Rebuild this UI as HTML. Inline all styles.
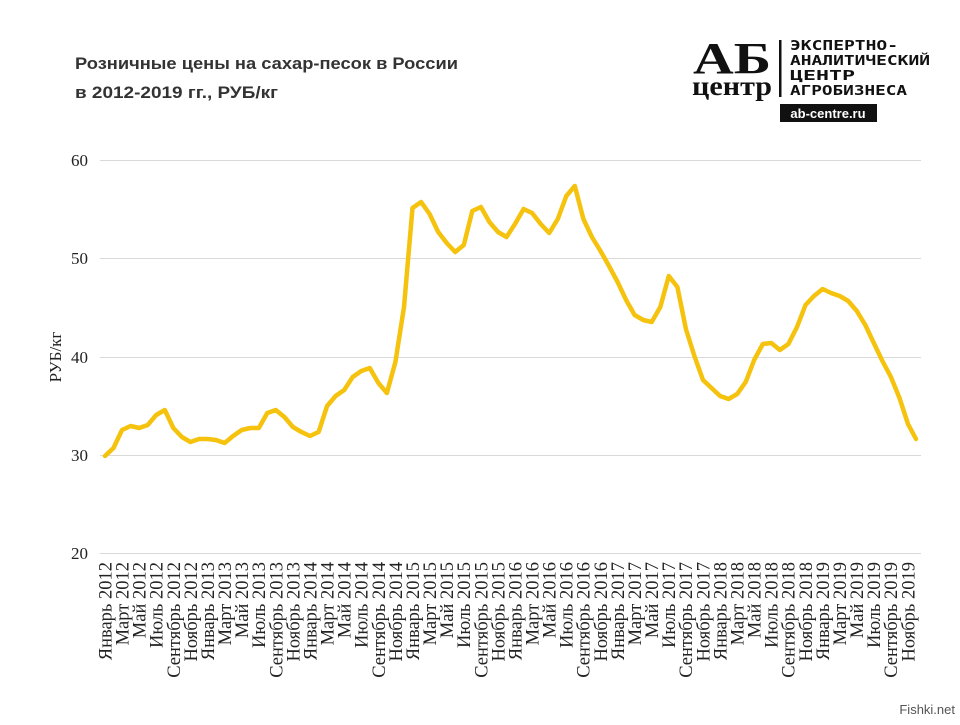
<!DOCTYPE html>
<html><head><meta charset="utf-8"><style>
body{margin:0;background:#fff}
</style></head><body>
<svg width="960" height="720" xmlns="http://www.w3.org/2000/svg">
<rect width="960" height="720" fill="#fff"/>
<text x="75" y="69" font-family="Liberation Sans, sans-serif" font-size="17" font-weight="bold" fill="#333" textLength="383" lengthAdjust="spacingAndGlyphs">Розничные  цены на сахар-песок  в России</text>
<text x="75" y="98" font-family="Liberation Sans, sans-serif" font-size="17" font-weight="bold" fill="#333" textLength="203" lengthAdjust="spacingAndGlyphs">в 2012-2019 гг., РУБ/кг</text>
<!-- logo -->
<text x="693" y="73" font-family="Liberation Serif, serif" font-size="44" font-weight="bold" fill="#111" textLength="78" lengthAdjust="spacingAndGlyphs">АБ</text>
<text x="692" y="95" font-family="Liberation Serif, serif" font-size="27" font-weight="bold" fill="#111" textLength="80" lengthAdjust="spacingAndGlyphs">центр</text>
<rect x="779" y="40" width="2.5" height="57" fill="#111"/>
<g font-family="DejaVu Sans Mono, monospace" font-size="13.5" font-weight="bold" fill="#111">
<text x="790" y="50" textLength="108" lengthAdjust="spacingAndGlyphs">ЭКСПЕРТНО-</text>
<text x="790" y="65" textLength="140" lengthAdjust="spacingAndGlyphs">АНАЛИТИЧЕСКИЙ</text>
<text x="790" y="80" textLength="65" lengthAdjust="spacingAndGlyphs">ЦЕНТР</text>
<text x="790" y="95" textLength="117" lengthAdjust="spacingAndGlyphs">АГРОБИЗНЕСА</text>
</g>
<rect x="780" y="104" width="97" height="18" fill="#111"/>
<text x="828" y="118" text-anchor="middle" font-family="Liberation Sans, sans-serif" font-size="13" font-weight="bold" fill="#fff">ab-centre.ru</text>
<!-- grid -->
<g stroke="#d9d9d9" stroke-width="1">
<line x1="100" y1="160.5" x2="921" y2="160.5"/>
<line x1="100" y1="258.5" x2="921" y2="258.5"/>
<line x1="100" y1="357.5" x2="921" y2="357.5"/>
<line x1="100" y1="455.5" x2="921" y2="455.5"/>
<line x1="100" y1="553.5" x2="921" y2="553.5"/>
</g>
<g font-family="Liberation Serif, serif" font-size="17" fill="#222" text-anchor="end">
<text x="88" y="166">60</text><text x="88" y="264">50</text><text x="88" y="363">40</text><text x="88" y="461">30</text><text x="88" y="559">20</text>
</g>
<text transform="translate(61,357) rotate(-90)" text-anchor="middle" font-family="Liberation Serif, serif" font-size="17" fill="#222">РУБ/кг</text>
<polyline fill="none" stroke="#F5C20E" stroke-width="4.5" stroke-linejoin="round" stroke-linecap="round" points="105,456 113.5,448 122,430 130.6,426 139.2,428 147.7,425 156.2,415 164.8,410 173.3,428 181.9,437 190.4,442 199,439 207.5,439 216,440 224.6,443 233.1,436 241.7,430 250.2,428 258.8,428 267.3,413 275.8,410 284.4,417 292.9,427 301.5,432 310,436 318.6,432 327.1,406 335.6,396 344.2,390 352.7,377 361.3,371 369.8,368 378.4,383 386.9,393 395.4,362 404,307 412.5,208 421.1,202 429.6,214 438.2,232 446.7,243 455.2,252 463.8,245 472.3,211 480.9,207 489.4,222 498,232 506.5,237 515,224 523.6,209 532.1,213 540.7,224 549.2,233 557.8,219 566.3,196 574.8,186 583.4,219 591.9,237 600.5,251 609,266 617.6,282 626.1,300 634.6,315 643.2,320 651.7,322 660.3,307 668.8,276 677.4,287 685.9,329 694.4,356 703,380 711.5,388 720.1,396 728.6,399 737.2,394 745.7,382 754.2,360 762.8,344 771.3,343 779.9,350 788.4,344 797,327 805.5,305 814,296 822.6,289 831.1,293 839.7,296 848.2,301 856.8,311 865.3,325 873.8,343 882.4,361 890.9,377 899.5,398 908,424 916,439"/>
<g font-family="Liberation Serif, serif" font-size="18.5" fill="#222" text-anchor="end">
<text transform="translate(111.5,562) rotate(-90)">Январь 2012</text>
<text transform="translate(128.6,562) rotate(-90)">Март 2012</text>
<text transform="translate(145.7,562) rotate(-90)">Май 2012</text>
<text transform="translate(162.7,562) rotate(-90)">Июль 2012</text>
<text transform="translate(179.8,562) rotate(-90)">Сентябрь 2012</text>
<text transform="translate(196.9,562) rotate(-90)">Ноябрь 2012</text>
<text transform="translate(214.0,562) rotate(-90)">Январь 2013</text>
<text transform="translate(231.1,562) rotate(-90)">Март 2013</text>
<text transform="translate(248.1,562) rotate(-90)">Май 2013</text>
<text transform="translate(265.2,562) rotate(-90)">Июль 2013</text>
<text transform="translate(282.3,562) rotate(-90)">Сентябрь 2013</text>
<text transform="translate(299.4,562) rotate(-90)">Ноябрь 2013</text>
<text transform="translate(316.5,562) rotate(-90)">Январь 2014</text>
<text transform="translate(333.5,562) rotate(-90)">Март 2014</text>
<text transform="translate(350.6,562) rotate(-90)">Май 2014</text>
<text transform="translate(367.7,562) rotate(-90)">Июль 2014</text>
<text transform="translate(384.8,562) rotate(-90)">Сентябрь 2014</text>
<text transform="translate(401.9,562) rotate(-90)">Ноябрь 2014</text>
<text transform="translate(418.9,562) rotate(-90)">Январь 2015</text>
<text transform="translate(436.0,562) rotate(-90)">Март 2015</text>
<text transform="translate(453.1,562) rotate(-90)">Май 2015</text>
<text transform="translate(470.2,562) rotate(-90)">Июль 2015</text>
<text transform="translate(487.3,562) rotate(-90)">Сентябрь 2015</text>
<text transform="translate(504.3,562) rotate(-90)">Ноябрь 2015</text>
<text transform="translate(521.4,562) rotate(-90)">Январь 2016</text>
<text transform="translate(538.5,562) rotate(-90)">Март 2016</text>
<text transform="translate(555.6,562) rotate(-90)">Май 2016</text>
<text transform="translate(572.7,562) rotate(-90)">Июль 2016</text>
<text transform="translate(589.7,562) rotate(-90)">Сентябрь 2016</text>
<text transform="translate(606.8,562) rotate(-90)">Ноябрь 2016</text>
<text transform="translate(623.9,562) rotate(-90)">Январь 2017</text>
<text transform="translate(641.0,562) rotate(-90)">Март 2017</text>
<text transform="translate(658.1,562) rotate(-90)">Май 2017</text>
<text transform="translate(675.1,562) rotate(-90)">Июль 2017</text>
<text transform="translate(692.2,562) rotate(-90)">Сентябрь 2017</text>
<text transform="translate(709.3,562) rotate(-90)">Ноябрь 2017</text>
<text transform="translate(726.4,562) rotate(-90)">Январь 2018</text>
<text transform="translate(743.5,562) rotate(-90)">Март 2018</text>
<text transform="translate(760.5,562) rotate(-90)">Май 2018</text>
<text transform="translate(777.6,562) rotate(-90)">Июль 2018</text>
<text transform="translate(794.7,562) rotate(-90)">Сентябрь 2018</text>
<text transform="translate(811.8,562) rotate(-90)">Ноябрь 2018</text>
<text transform="translate(828.9,562) rotate(-90)">Январь 2019</text>
<text transform="translate(845.9,562) rotate(-90)">Март 2019</text>
<text transform="translate(863.0,562) rotate(-90)">Май 2019</text>
<text transform="translate(880.1,562) rotate(-90)">Июль 2019</text>
<text transform="translate(897.2,562) rotate(-90)">Сентябрь 2019</text>
<text transform="translate(914.3,562) rotate(-90)">Ноябрь 2019</text>
</g>
<text x="955" y="714" text-anchor="end" font-family="Liberation Sans, sans-serif" font-size="13" fill="#555">Fishki.net</text>
</svg>
</body></html>
